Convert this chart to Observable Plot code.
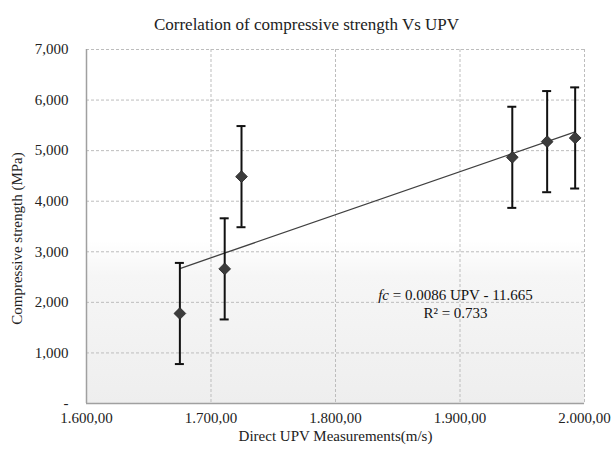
<!DOCTYPE html>
<html>
<head>
<meta charset="utf-8">
<script src="https://cdn.jsdelivr.net/npm/d3@7"></script>
<script src="https://cdn.jsdelivr.net/npm/@observablehq/plot@0.6"></script>
<style>
  html, body { margin: 0; padding: 0; background: #fff; }
  svg { display: block; }
</style>
</head>
<body>
<div id="chart"></div>
<script>
// Data
const upv = [1675, 1711, 1724.5, 1942, 1970, 1992.5];          // Direct UPV (m/s)
const strength = [1780, 2662, 4486, 4868, 5178, 5251];          // Compressive strength
const errorHalf = [1000, 1000, 1000, 1000, 1000, 1000];         // error bar half-widths
const xTicks = [1600, 1700, 1800, 1900, 2000];
const yTicks = [0, 1000, 2000, 3000, 4000, 5000, 6000, 7000];
const titleText = "Correlation of compressive strength Vs UPV";
const xLabel = "Direct UPV Measurements(m/s)";
const yLabel = "Compressive strength (MPa)";
const eqLine1 = "fc = 0.0086 UPV - 11.665";
const eqLine2 = "R² = 0.733";

const data = upv.map((x, i) => ({x, y: strength[i], lo: strength[i] - errorHalf[i], hi: strength[i] + errorHalf[i]}));

const eu = d3.formatLocale({decimal: ",", thousands: ".", grouping: [3], currency: ["", ""]});
const xFmt = eu.format(",.2f");
const yFmt = d => d === 0 ? "-" : d3.format(",")(d);

const font = "'Liberation Serif', 'DejaVu Serif', serif";

const chart = Plot.plot({
  width: 614,
  height: 455,
  marginLeft: 86,
  marginRight: 30,
  marginTop: 49,
  marginBottom: 52,
  style: {fontFamily: font, fontSize: "14px", color: "#222", background: "#fff"},
  x: {domain: [1600, 2000], label: null},
  y: {domain: [0, 7000], label: null},
  marks: [
    Plot.frame({fill: "url(#bgGrad)", stroke: "none"}),
    Plot.gridY(yTicks, {stroke: "#bdbdbd", strokeOpacity: 1, strokeDasharray: "3,2", strokeWidth: 1}),
    Plot.gridX(xTicks, {stroke: "#bdbdbd", strokeOpacity: 1, strokeDasharray: "3,2", strokeWidth: 1}),
    Plot.ruleX([1600], {stroke: "#a0a0a0", strokeWidth: 1.5}),
    Plot.ruleY([0], {stroke: "#a0a0a0", strokeWidth: 1.5}),
    Plot.axisX(xTicks, {tickFormat: xFmt, tickSize: 0, tickPadding: 9, fontSize: 15, fontFamily: font, fill: "#222", label: null}),
    Plot.axisY(yTicks, {tickFormat: yFmt, tickSize: 0, tickPadding: 18, fontSize: 15, fontFamily: font, fill: "#222", label: null}),
    Plot.linearRegressionY(data, {x: "x", y: "y", ci: 0, stroke: "#404040", strokeWidth: 1.3}),
    Plot.ruleX(data, {x: "x", y1: "lo", y2: "hi", stroke: "#111", strokeWidth: 2}),
    Plot.ruleY(data, {y: "lo", x1: "x", x2: "x", insetLeft: -4.5, insetRight: -4.5, stroke: "#111", strokeWidth: 2}),
    Plot.ruleY(data, {y: "hi", x1: "x", x2: "x", insetLeft: -4.5, insetRight: -4.5, stroke: "#111", strokeWidth: 2}),
    Plot.dot(data, {x: "x", y: "y", symbol: "diamond2", r: 5.3, fill: "#3c3c3c", stroke: "#222", strokeWidth: 0.8}),
    Plot.text([eqLine1], {frameAnchor: "top-left", dx: 369, dy: 240, text: d => d, textAnchor: "middle", fontSize: 15, fontFamily: font, fill: "#111", className: "eq1"}),
    Plot.text([eqLine2], {frameAnchor: "top-left", dx: 369, dy: 258, text: d => d, textAnchor: "middle", fontSize: 15, fontFamily: font, fill: "#111"}),
    Plot.text([titleText], {frameAnchor: "top-left", dx: 220, dy: -32, text: d => d, textAnchor: "middle", fontSize: 17, fontFamily: font, fill: "#222"}),
    Plot.text([xLabel], {frameAnchor: "bottom", dy: 37, text: d => d, textAnchor: "middle", fontSize: 15, fontFamily: font, fill: "#222"}),
    Plot.text([yLabel], {frameAnchor: "left", dx: -69, dy: 12, rotate: -90, text: d => d, textAnchor: "middle", fontSize: 15, fontFamily: font, fill: "#222"})
  ]
});

// gradient background for the plot area
const svg = d3.select(chart);
const defs = svg.insert("defs", ":first-child");
const g = defs.append("linearGradient").attr("id", "bgGrad").attr("x1", 0).attr("y1", 0).attr("x2", 0).attr("y2", 1);
g.append("stop").attr("offset", "0%").attr("stop-color", "#ffffff");
g.append("stop").attr("offset", "54%").attr("stop-color", "#ffffff");
g.append("stop").attr("offset", "64%").attr("stop-color", "#f6f6f6");
g.append("stop").attr("offset", "100%").attr("stop-color", "#eeeeee");

// italic "fc"
svg.selectAll(".eq1 text").each(function() {
  const t = d3.select(this);
  const s = t.text();
  t.text(null);
  t.append("tspan").attr("font-style", "italic").text(s.slice(0, 2));
  t.append("tspan").text(s.slice(2));
});

document.getElementById("chart").appendChild(chart);
</script>
</body>
</html>
